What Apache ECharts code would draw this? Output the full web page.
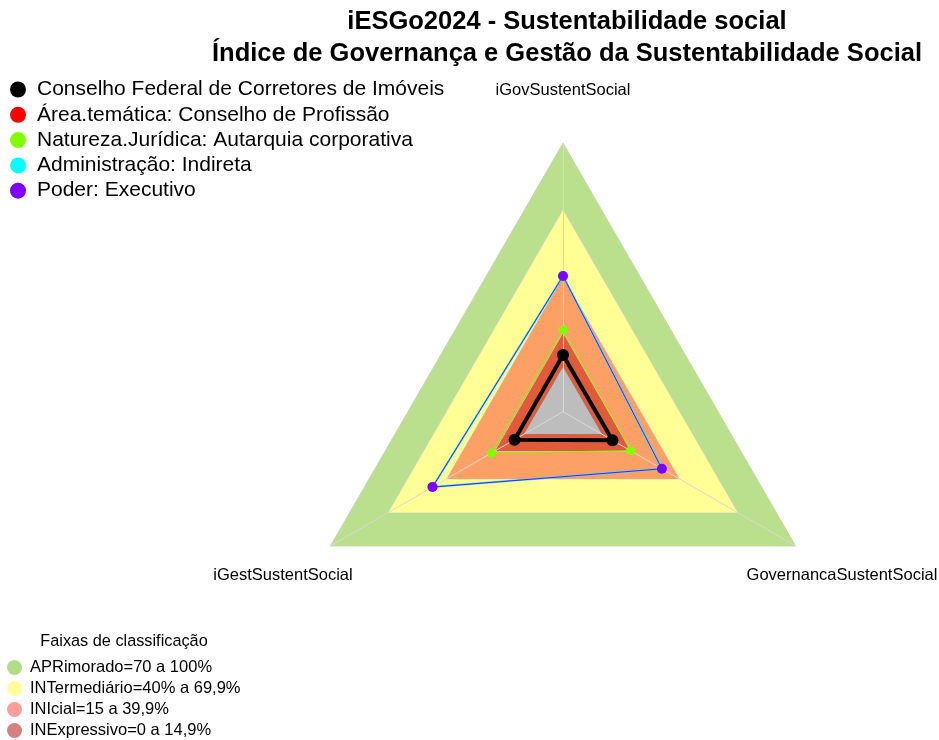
<!DOCTYPE html>
<html>
<head>
<meta charset="utf-8">
<script src="https://cdn.jsdelivr.net/npm/echarts@6/dist/echarts.min.js"></script>
<style>html,body{margin:0;padding:0;background:#fff;}#c{width:939px;height:740px;}</style>
</head>
<body>
<div id="c"></div>
<script>
// Indicators (radar axes), counter-clockwise from top
const indicators = ['iGovSustentSocial', 'iGestSustentSocial', 'GovernancaSustentSocial'];
// Radar scale (as in the original radar chart: centre = -0.2)
const scaleMin = -0.2, scaleMax = 1.0;

// Data series (values per indicator)
const seriesNames = [
  'Conselho Federal de Corretores de Imóveis',
  'Área.temática: Conselho de Profissão',
  'Natureza.Jurídica: Autarquia corporativa',
  'Administração: Indireta',
  'Poder: Executivo'
];
const conselhoFederal = [0.053, 0.050, 0.055];
const areaTematica    = [0.053, 0.050, 0.055];
const naturezaJuridica= [0.165, 0.170, 0.148];
const administracao   = [0.406, 0.473, 0.310];
const poder           = [0.406, 0.473, 0.310];
const seriesColors = ['#000000', '#ff0000', '#80ff00', '#00ffff', '#8000ff'];

// Classification bands
const bandNames = ['APRimorado=70 a 100%', 'INTermediário=40% a 69,9%', 'INIcial=15 a 39,9%', 'INExpressivo=0 a 14,9%'];
const bandUpper = [1.0, 0.7, 0.4, 0.15];
const bandFill = ['#bbe08d', '#ffff96', '#fca066', '#e15a3a'];
const bandLegendColor = ['#b3dc89', '#ffff99', '#ff9c9c', '#d88080'];
const zeroLevel = 0;

const chart = echarts.init(document.getElementById('c'));
const FF = 'Liberation Sans, Arial, sans-serif';

const bandSeries = bandNames.map((n, i) => ({
  type: 'radar', name: n, z: 1, silent: true,
  symbol: 'none',
  itemStyle: { color: bandLegendColor[i] },
  lineStyle: { color: '#d6d6d6', width: 1 },
  areaStyle: { color: bandFill[i], opacity: 1 },
  data: [{ name: n, value: indicators.map(() => bandUpper[i]) }]
}));
bandSeries.push({
  type: 'radar', name: 'zero', z: 1, silent: true, symbol: 'none',
  itemStyle: { color: '#bdbdbd' },
  lineStyle: { color: '#b0705a', width: 1.5 },
  areaStyle: { color: '#bdbdbd', opacity: 1 },
  data: [{ name: 'zero', value: indicators.map(() => zeroLevel) }]
});

const dataVals = [conselhoFederal, areaTematica, naturezaJuridica, administracao, poder];
const lineW = [4, 1, 1, 2, 1];
const symS = [12, 9, 9, 10, 10];
const dataSeries = seriesNames.map((n, i) => ({
  type: 'radar', name: n, z: 5 + (i === 0 ? 10 : i),
  symbol: 'circle', symbolSize: symS[i],
  itemStyle: { color: seriesColors[i] },
  lineStyle: { color: seriesColors[i], width: lineW[i] },
  data: [{ name: n, value: dataVals[i] }]
}));

chart.setOption({
  animation: false,
  title: {
    text: 'iESGo2024 - Sustentabilidade social\nÍndice de Governança e Gestão da Sustentabilidade Social',
    left: 562, top: 1, textAlign: 'center',
    textStyle: { fontFamily: FF, fontWeight: 'bold', fontSize: 25.5, lineHeight: 32, color: '#000' }
  },
  legend: [{
    orient: 'vertical', left: 10, top: 79, icon: 'circle', padding: 0,
    itemWidth: 16, itemHeight: 16, itemGap: 4.3,
    itemStyle: { borderWidth: 0 },
    textStyle: { fontFamily: FF, fontSize: 21, color: '#000', padding: [0, 0, 0, 6] },
    data: seriesNames, selectedMode: false
  }, {
    orient: 'vertical', left: 7, top: 659, height: 120, icon: 'circle', padding: 0,
    itemWidth: 15, itemHeight: 15, itemGap: 4,
    itemStyle: { borderWidth: 0 },
    textStyle: { fontFamily: FF, fontSize: 16.5, color: '#000', padding: [0, 0, 0, 3] },
    data: bandNames.map((n, i) => ({ name: n, itemStyle: { color: bandLegendColor[i] } })), selectedMode: false
  }],
  radar: {
    center: [563, 411.7], radius: 268.7, startAngle: 90, shape: 'polygon', splitNumber: 1, z: 3,
    indicator: indicators.map(n => ({ name: n, min: scaleMin, max: scaleMax })),
    axisName: { show: false },
    splitLine: { show: false }, splitArea: { show: false },
    axisLine: { lineStyle: { color: '#d8d8d8', width: 1 } },
    axisTick: { show: false }, axisLabel: { show: false }
  },
  graphic: [
    { type: 'text', left: 0, top: -16, style: { text: 'Social', font: '20px ' + FF, fill: '#9fb2da' } },
    { type: 'text', x: 563, y: 90, style: { text: indicators[0], font: '16.5px ' + FF, fill: '#000', align: 'center', verticalAlign: 'middle' } },
    { type: 'text', x: 283, y: 575, style: { text: indicators[1], font: '16.5px ' + FF, fill: '#000', align: 'center', verticalAlign: 'middle' } },
    { type: 'text', x: 842, y: 575, style: { text: indicators[2], font: '16.5px ' + FF, fill: '#000', align: 'center', verticalAlign: 'middle' } },
    { type: 'text', x: 124, y: 642, style: { text: 'Faixas de classificação', font: '16.3px ' + FF, fill: '#000', align: 'center', verticalAlign: 'middle' } }
  ],
  series: bandSeries.concat(dataSeries)
});
</script>
</body>
</html>
